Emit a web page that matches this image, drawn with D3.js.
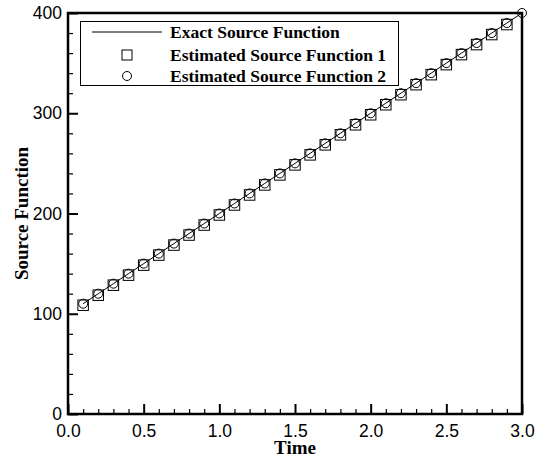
<!DOCTYPE html>
<html><head><meta charset="utf-8">
<script src="https://cdn.jsdelivr.net/npm/d3@7"></script>
<style>body{margin:0;background:#fff}svg{display:block}</style>
</head><body>
<svg id="c" width="544" height="457"></svg>
<script>
const time = [0.1,0.2,0.3,0.4,0.5,0.6,0.7,0.8,0.9,1.0,1.1,1.2,1.3,1.4,1.5,1.6,1.7,1.8,1.9,2.0,2.1,2.2,2.3,2.4,2.5,2.6,2.7,2.8,2.9,3.0];
const exact = [110,120,130,140,150,160,170,180,190,200,210,220,230,240,250,260,270,280,290,300,310,320,330,340,350,360,370,380,390,400];
const est1Time = [0.1,0.2,0.3,0.4,0.5,0.6,0.7,0.8,0.9,1.0,1.1,1.2,1.3,1.4,1.5,1.6,1.7,1.8,1.9,2.0,2.1,2.2,2.3,2.4,2.5,2.6,2.7,2.8,2.9];
const est1 = [108.5,118.5,128.5,138.5,148.5,158.5,168.5,178.5,188.5,198.5,208.5,218.5,228.5,238.5,248.5,258.5,268.5,278.5,288.5,298.5,308.5,318.5,328.5,338.5,348.5,358.5,368.5,378.5,388.5];
const est2 = [110,120,130,140,150,160,170,180,190,200,210,220,230,240,250,260,270,280,290,300,310,320,330,340,350,360,370,380,390,400];
const xTicks = [0,0.5,1.0,1.5,2.0,2.5,3.0];
const xTickLabels = ["0.0","0.5","1.0","1.5","2.0","2.5","3.0"];
const yTicks = [0,100,200,300,400];
const legendLabels = ["Exact Source Function","Estimated Source Function 1","Estimated Source Function 2"];

const svg = d3.select("#c");
const L=68, R=522, T=13, B=414;
const x = d3.scaleLinear().domain([0,3]).range([L,R]);
const y = d3.scaleLinear().domain([0,400]).range([B,T]);

const xMinor = d3.range(0,31).map(i=>i/10).filter(v=>Math.abs(v*2-Math.round(v*2))>1e-6);
const yMinor = d3.range(0,401,20).filter(v=>v%100!==0);
const sans = "'Liberation Sans', Arial, sans-serif";
const serif = "'Liberation Serif', 'Times New Roman', serif";

const g = svg.append("g");
const xAx = d3.axisBottom(x).tickValues(xTicks).tickFormat((d,i)=>xTickLabels[i]).tickSizeInner(-10).tickSizeOuter(0).tickPadding(11);
const gx = g.append("g").attr("transform",`translate(0,${B})`).call(xAx);
gx.select(".domain").remove();
gx.selectAll("line").attr("stroke","#000").attr("stroke-width",2);
gx.selectAll("text").attr("font-family",sans).attr("font-size",17.5).attr("fill","#000");
const xAxMinor = d3.axisBottom(x).tickValues(xMinor).tickFormat("").tickSizeInner(-5).tickSizeOuter(0);
const gxm = g.append("g").attr("transform",`translate(0,${B})`).call(xAxMinor);
gxm.select(".domain").remove();
gxm.selectAll("line").attr("stroke","#000").attr("stroke-width",1.2);

const yAx = d3.axisLeft(y).tickValues(yTicks).tickFormat(d3.format("d")).tickSizeInner(-10).tickSizeOuter(0).tickPadding(6);
const gy = g.append("g").attr("transform",`translate(${L},0)`).call(yAx);
gy.select(".domain").remove();
gy.selectAll("line").attr("stroke","#000").attr("stroke-width",2);
gy.selectAll("text").attr("font-family",sans).attr("font-size",17.5).attr("fill","#000");
const yAxMinor = d3.axisLeft(y).tickValues(yMinor).tickFormat("").tickSizeInner(-5).tickSizeOuter(0);
const gym = g.append("g").attr("transform",`translate(${L},0)`).call(yAxMinor);
gym.select(".domain").remove();
gym.selectAll("line").attr("stroke","#000").attr("stroke-width",1.2);

g.append("rect").attr("x",L).attr("y",T).attr("width",R-L).attr("height",B-T)
  .attr("fill","none").attr("stroke","#000").attr("stroke-width",2.5);

const line = d3.line().x((d,i)=>x(time[i])).y(d=>y(d));
g.append("path").datum(exact).attr("d",line).attr("fill","none").attr("stroke","#000").attr("stroke-width",1);

const sq = 10.5;
g.selectAll(".sq").data(est1).enter().append("rect")
  .attr("x",(d,i)=>x(est1Time[i])-sq/2).attr("y",d=>y(d)-sq/2)
  .attr("width",sq).attr("height",sq).attr("fill","none").attr("stroke","#000").attr("stroke-width",1);
g.selectAll(".ci").data(est2).enter().append("circle")
  .attr("cx",(d,i)=>x(time[i])).attr("cy",d=>y(d)).attr("r",4.5)
  .attr("fill","none").attr("stroke","#000").attr("stroke-width",1);

const lg = svg.append("g");
lg.append("rect").attr("x",80.5).attr("y",21.5).attr("width",318).attr("height",64)
  .attr("fill","#fff").attr("stroke","#000").attr("stroke-width",1);
const rows=[32,55,76];
lg.append("line").attr("x1",92).attr("x2",162).attr("y1",rows[0]).attr("y2",rows[0]).attr("stroke","#000").attr("stroke-width",1);
lg.append("rect").attr("x",127-5).attr("y",rows[1]-5).attr("width",10).attr("height",10).attr("fill","none").attr("stroke","#000");
lg.append("circle").attr("cx",127).attr("cy",rows[2]).attr("r",4.5).attr("fill","none").attr("stroke","#000");
lg.selectAll(".lt").data(legendLabels).enter().append("text")
  .attr("x",170).attr("y",(d,i)=>rows[i]+6).text(d=>d)
  .attr("font-family",serif).attr("font-weight","bold").attr("font-size",17.5).attr("fill","#000");

svg.append("text").attr("x",(L+R)/2).attr("y",454).attr("text-anchor","middle").text("Time")
  .attr("font-family",serif).attr("font-weight","bold").attr("font-size",19);
svg.append("text").attr("transform",`translate(28,${(T+B)/2}) rotate(-90)`).attr("text-anchor","middle").text("Source Function")
  .attr("font-family",serif).attr("font-weight","bold").attr("font-size",19);
</script>
</body></html>
